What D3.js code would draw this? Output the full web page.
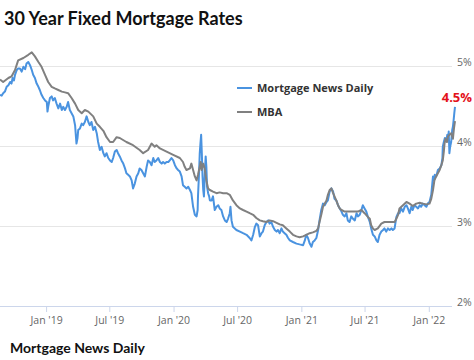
<!DOCTYPE html>
<html><head><meta charset="utf-8">
<script src="https://cdn.jsdelivr.net/npm/d3@7"></script>
<style>body{margin:0;background:#fff} svg{display:block}</style>
</head><body>
<svg id="c" width="474" height="360"></svg>
<script>
const titleText = "30 Year Fixed Mortgage Rates";
const sourceText = "Mortgage News Daily";
const seriesNames = ["Mortgage News Daily", "MBA"];
const yTicks = [2, 3, 4, 5];
const xTickDates = ["2019-01-01","2019-07-01","2020-01-01","2020-07-01","2021-01-01","2021-07-01","2022-01-01"];
const latestLabel = "4.5%";
const dateRange = ["2018-08-22", "2022-03-17"];

const mndSeries = [
["2018-08-22",4.64],["2018-08-27",4.63],["2018-08-31",4.66],["2018-09-05",4.68],["2018-09-10",4.74],["2018-09-15",4.76],["2018-09-20",4.80],["2018-09-24",4.78],["2018-09-27",4.85],["2018-10-01",4.82],
["2018-10-04",4.89],["2018-10-09",4.95],["2018-10-13",4.97],["2018-10-18",4.97],["2018-10-23",4.93],["2018-10-28",4.99],["2018-11-02",4.96],["2018-11-06",5.03],["2018-11-11",5.05],["2018-11-16",5.01],
["2018-11-21",4.95],["2018-11-25",4.89],["2018-11-30",4.85],["2018-12-05",4.78],["2018-12-10",4.74],["2018-12-14",4.70],["2018-12-19",4.64],["2018-12-24",4.60],["2018-12-29",4.57],
["2019-01-03",4.55],["2019-01-05",4.43],["2019-01-07",4.49],["2019-01-12",4.60],["2019-01-17",4.62],["2019-01-21",4.57],["2019-01-26",4.60],["2019-01-31",4.53],["2019-02-05",4.47],["2019-02-10",4.53],
["2019-02-15",4.45],["2019-02-19",4.49],["2019-02-24",4.45],["2019-03-01",4.49],["2019-03-05",4.55],["2019-03-10",4.45],["2019-03-15",4.41],["2019-03-20",4.37],["2019-03-25",4.26],["2019-03-29",4.03],
["2019-04-01",4.10],["2019-04-03",4.20],["2019-04-08",4.22],["2019-04-13",4.28],["2019-04-17",4.26],["2019-04-22",4.30],["2019-04-27",4.37],["2019-05-02",4.30],["2019-05-06",4.26],["2019-05-11",4.30],
["2019-05-16",4.20],["2019-05-21",4.24],["2019-05-26",4.16],["2019-05-30",4.05],["2019-06-04",3.95],["2019-06-09",3.99],["2019-06-14",3.91],["2019-06-18",3.87],["2019-06-23",3.91],["2019-06-28",3.85],
["2019-07-03",3.82],["2019-07-08",3.80],["2019-07-12",3.85],["2019-07-17",3.93],["2019-07-22",3.95],["2019-07-26",3.91],["2019-07-31",3.87],["2019-08-05",3.82],["2019-08-10",3.78],["2019-08-15",3.72],
["2019-08-19",3.66],["2019-08-24",3.64],["2019-08-29",3.62],["2019-09-03",3.57],["2019-09-07",3.47],["2019-09-12",3.53],["2019-09-17",3.62],["2019-09-22",3.66],["2019-09-26",3.72],["2019-10-01",3.70],
["2019-10-06",3.66],["2019-10-11",3.62],["2019-10-16",3.74],["2019-10-20",3.82],["2019-10-25",3.80],["2019-10-30",3.76],["2019-11-04",3.85],["2019-11-08",3.80],["2019-11-13",3.82],["2019-11-18",3.85],
["2019-11-23",3.80],["2019-11-28",3.78],["2019-12-02",3.80],["2019-12-07",3.78],["2019-12-12",3.80],["2019-12-17",3.80],["2019-12-21",3.82],["2019-12-26",3.85],["2019-12-31",3.82],
["2020-01-05",3.76],["2020-01-10",3.72],["2020-01-14",3.70],["2020-01-19",3.68],["2020-01-24",3.62],["2020-01-28",3.51],["2020-02-02",3.49],["2020-02-07",3.47],["2020-02-12",3.49],["2020-02-17",3.45],
["2020-02-21",3.41],["2020-02-26",3.24],["2020-03-02",3.14],["2020-03-07",3.12],["2020-03-10",3.20],["2020-03-11",3.37],["2020-03-14",3.66],["2020-03-16",3.91],["2020-03-18",4.03],["2020-03-20",4.14],
["2020-03-22",3.91],["2020-03-24",3.62],["2020-03-26",3.45],["2020-03-28",3.37],["2020-03-30",3.57],["2020-03-31",3.70],["2020-04-02",3.87],["2020-04-04",3.74],["2020-04-06",3.49],["2020-04-09",3.41],
["2020-04-12",3.37],["2020-04-14",3.32],["2020-04-19",3.32],["2020-04-23",3.37],["2020-04-28",3.20],["2020-05-03",3.24],["2020-05-08",3.26],["2020-05-12",3.22],["2020-05-17",3.20],["2020-05-22",3.12],
["2020-05-27",3.07],["2020-06-01",3.05],["2020-06-05",3.09],["2020-06-10",3.16],["2020-06-12",3.24],["2020-06-15",3.07],["2020-06-19",2.99],["2020-06-29",2.95],["2020-07-09",2.93],["2020-07-18",2.91],
["2020-07-28",2.89],["2020-08-06",2.85],["2020-08-11",2.82],["2020-08-16",2.89],["2020-08-21",2.99],["2020-08-25",3.03],["2020-08-30",3.01],["2020-09-04",2.87],["2020-09-09",2.91],["2020-09-13",2.93],
["2020-09-18",3.01],["2020-09-23",3.05],["2020-09-28",3.07],["2020-10-02",3.03],["2020-10-07",3.05],["2020-10-12",2.99],["2020-10-17",2.95],["2020-10-22",2.93],["2020-10-26",2.95],["2020-10-31",2.91],
["2020-11-05",2.97],["2020-11-09",2.93],["2020-11-14",2.91],["2020-11-19",2.89],["2020-11-24",2.85],["2020-11-29",2.82],["2020-12-08",2.80],["2020-12-18",2.78],["2020-12-27",2.77],
["2021-01-06",2.76],["2021-01-11",2.82],["2021-01-15",2.89],["2021-01-20",2.85],["2021-01-25",2.78],["2021-01-30",2.74],["2021-02-03",2.80],["2021-02-08",2.82],["2021-02-13",2.85],["2021-02-18",2.95],
["2021-02-22",3.07],["2021-02-27",3.20],["2021-03-04",3.28],["2021-03-09",3.26],["2021-03-14",3.30],["2021-03-18",3.32],["2021-03-23",3.43],["2021-03-28",3.47],["2021-04-02",3.43],["2021-04-06",3.34],
["2021-04-11",3.32],["2021-04-16",3.26],["2021-04-21",3.22],["2021-04-26",3.18],["2021-04-30",3.14],["2021-05-05",3.12],["2021-05-10",3.16],["2021-05-14",3.07],["2021-05-19",3.05],["2021-05-24",3.12],
["2021-05-29",3.09],["2021-06-03",3.07],["2021-06-08",3.16],["2021-06-12",3.12],["2021-06-17",3.14],["2021-06-22",3.20],["2021-06-26",3.26],["2021-07-01",3.22],["2021-07-06",3.18],["2021-07-11",3.11],
["2021-07-16",3.05],["2021-07-20",2.97],["2021-07-25",2.89],["2021-07-30",2.87],["2021-08-04",2.82],["2021-08-08",2.80],["2021-08-13",2.89],["2021-08-18",2.93],["2021-08-23",2.95],["2021-08-27",2.97],
["2021-09-01",2.93],["2021-09-06",2.97],["2021-09-11",2.95],["2021-09-16",2.97],["2021-09-20",2.95],["2021-09-25",2.97],["2021-09-30",3.11],["2021-10-05",3.16],["2021-10-09",3.16],["2021-10-14",3.22],
["2021-10-19",3.18],["2021-10-24",3.24],["2021-10-29",3.26],["2021-11-02",3.22],["2021-11-07",3.16],["2021-11-12",3.24],["2021-11-16",3.20],["2021-11-21",3.26],["2021-11-26",3.24],["2021-12-01",3.22],
["2021-12-06",3.26],["2021-12-10",3.24],["2021-12-15",3.28],["2021-12-20",3.26],["2021-12-25",3.24],["2021-12-29",3.28],
["2022-01-03",3.30],["2022-01-08",3.39],["2022-01-11",3.53],["2022-01-13",3.62],["2022-01-16",3.57],["2022-01-18",3.64],["2022-01-22",3.62],["2022-01-27",3.70],["2022-02-01",3.72],["2022-02-06",3.76],
["2022-02-09",3.85],["2022-02-10",3.99],["2022-02-13",4.05],["2022-02-16",4.10],["2022-02-20",4.07],["2022-02-23",4.14],["2022-02-26",4.07],["2022-02-27",4.18],["2022-03-01",3.91],["2022-03-03",3.99],
["2022-03-06",4.05],["2022-03-09",4.20],["2022-03-11",4.24],["2022-03-13",4.32],["2022-03-15",4.41],["2022-03-17",4.49]
];

const mbaSeries = [
["2018-08-22",4.83],["2018-08-31",4.80],["2018-09-15",4.85],["2018-09-24",4.87],["2018-10-04",4.95],["2018-10-13",5.07],["2018-10-28",5.10],["2018-11-11",5.14],["2018-11-21",5.17],["2018-11-30",5.12],
["2018-12-10",5.05],["2018-12-19",4.99],["2018-12-29",4.89],["2019-01-07",4.80],["2019-01-17",4.74],["2019-01-26",4.72],["2019-02-05",4.70],["2019-02-15",4.68],["2019-02-24",4.67],["2019-03-05",4.66],
["2019-03-15",4.60],["2019-03-25",4.53],["2019-04-03",4.45],["2019-04-13",4.41],["2019-04-22",4.45],["2019-05-02",4.43],["2019-05-16",4.37],["2019-05-26",4.28],["2019-06-04",4.24],["2019-06-14",4.19],
["2019-06-23",4.11],["2019-07-03",4.05],["2019-07-12",4.05],["2019-07-22",4.11],["2019-07-31",4.10],["2019-08-19",4.05],["2019-09-07",4.01],["2019-09-26",3.95],["2019-10-06",3.91],["2019-10-20",3.95],
["2019-10-25",3.99],["2019-10-30",4.03],["2019-11-04",4.01],["2019-11-08",3.99],["2019-11-13",4.01],["2019-11-23",3.97],["2019-12-12",3.93],["2019-12-31",3.89],["2020-01-19",3.85],["2020-01-28",3.80],
["2020-02-02",3.74],["2020-02-07",3.70],["2020-02-17",3.72],["2020-02-21",3.78],["2020-02-26",3.70],["2020-03-02",3.62],["2020-03-07",3.57],["2020-03-11",3.64],["2020-03-16",3.74],["2020-03-19",3.80],
["2020-03-21",3.70],["2020-03-26",3.78],["2020-03-30",3.72],["2020-04-04",3.57],["2020-04-09",3.47],["2020-04-14",3.45],["2020-04-23",3.43],["2020-05-03",3.41],["2020-05-12",3.42],["2020-05-22",3.41],
["2020-06-01",3.41],["2020-06-10",3.39],["2020-06-19",3.32],["2020-06-29",3.26],["2020-07-09",3.22],["2020-07-18",3.20],["2020-07-28",3.18],["2020-08-06",3.16],["2020-08-16",3.14],["2020-08-25",3.10],
["2020-09-04",3.07],["2020-09-13",3.06],["2020-09-23",3.05],["2020-10-02",3.07],["2020-10-12",3.06],["2020-10-22",3.04],["2020-10-31",3.02],["2020-11-09",3.01],["2020-11-19",2.97],["2020-11-29",2.93],
["2020-12-08",2.89],["2020-12-18",2.87],["2020-12-27",2.86],["2021-01-06",2.87],["2021-01-15",2.89],["2021-01-25",2.91],["2021-02-03",2.92],["2021-02-13",2.94],["2021-02-18",2.97],["2021-02-22",3.05],
["2021-02-27",3.14],["2021-03-04",3.24],["2021-03-09",3.28],["2021-03-14",3.32],["2021-03-18",3.39],["2021-03-23",3.45],["2021-03-28",3.47],["2021-04-02",3.41],["2021-04-06",3.37],["2021-04-11",3.32],
["2021-04-16",3.26],["2021-04-21",3.22],["2021-04-26",3.20],["2021-05-05",3.18],["2021-05-14",3.18],["2021-05-29",3.18],["2021-06-12",3.18],["2021-06-22",3.20],["2021-07-01",3.16],["2021-07-11",3.11],
["2021-07-16",3.09],["2021-07-20",3.01],["2021-07-25",2.97],["2021-07-30",2.95],["2021-08-08",2.97],["2021-08-18",3.03],["2021-08-27",3.05],["2021-09-06",3.05],["2021-09-16",3.05],["2021-09-25",3.05],
["2021-09-30",3.09],["2021-10-05",3.14],["2021-10-09",3.22],["2021-10-19",3.26],["2021-10-29",3.30],["2021-11-07",3.28],["2021-11-16",3.25],["2021-11-26",3.28],["2021-12-06",3.29],["2021-12-15",3.28],
["2021-12-25",3.27],["2022-01-03",3.28],["2022-01-08",3.34],["2022-01-13",3.45],["2022-01-17",3.57],["2022-01-22",3.62],["2022-01-27",3.66],["2022-02-01",3.70],["2022-02-06",3.76],["2022-02-10",3.82],
["2022-02-13",3.93],["2022-02-15",4.03],["2022-02-18",4.09],["2022-02-22",4.05],["2022-02-25",4.12],["2022-03-01",4.14],["2022-03-06",4.16],["2022-03-11",4.09],["2022-03-14",4.22],["2022-03-17",4.31]
];

const parse = d3.timeParse("%Y-%m-%d");
const svg = d3.select("#c");
const plotRight = 455;
const x = d3.scaleTime().domain(dateRange.map(parse)).range([0, plotRight]);
const y = d3.scaleLinear().domain([2, 5]).range([306, 66]);

// title
svg.append("text").attr("x", 4).attr("y", 25)
  .attr("font-family", "Lato, 'Open Sans', sans-serif").attr("font-weight", 700)
  .attr("font-size", 18).attr("fill", "#111").text(titleText);

// gridlines
svg.append("g").selectAll("line").data(yTicks.filter(d => d !== 2)).join("line")
  .attr("x1", 0).attr("x2", 452).attr("y1", d => y(d)).attr("y2", d => y(d))
  .attr("stroke", "#e6e6e6").attr("stroke-width", 1).attr("shape-rendering", "crispEdges");

// y labels
const yAxis = d3.axisRight(y).tickValues(yTicks).tickSize(0).tickFormat(d => d + "%");
const gy = svg.append("g").attr("transform", "translate(456,0)").call(yAxis);
gy.select(".domain").remove();
gy.selectAll("text").attr("font-family", "'Open Sans', sans-serif").attr("font-size", 10.5)
  .attr("fill", "#666").attr("x", 1).attr("dy", "-0.05em");

// x axis
const xAxis = d3.axisBottom(x).tickValues(xTickDates.map(parse))
  .tickSize(6).tickPadding(5).tickFormat(d3.timeFormat("%b '%y"));
const gx = svg.append("g").attr("transform", `translate(0,${y(2)})`).call(xAxis);
gx.select(".domain").attr("d", "M0,0.5H452").attr("stroke", "#ccd6eb");
gx.selectAll(".tick line").attr("stroke", "#ccd6eb");
gx.selectAll("text").attr("font-family", "'Open Sans', sans-serif").attr("font-size", 10.5).attr("fill", "#666");

// lines
const line = d3.line().x(d => x(parse(d[0]))).y(d => y(d[1]));
svg.append("path").datum(mndSeries).attr("d", line).attr("fill", "none")
  .attr("stroke", "#4a93e0").attr("stroke-width", 2).attr("stroke-linejoin", "round");
svg.append("path").datum(mbaSeries).attr("d", line).attr("fill", "none")
  .attr("stroke", "#808080").attr("stroke-width", 2).attr("stroke-linejoin", "round");

// legend
const legendColors = ["#4a93e0", "#808080"];
const lg = svg.append("g").attr("transform", "translate(237,88)");
seriesNames.forEach((name, i) => {
  const g = lg.append("g").attr("transform", `translate(0,${i * 24})`);
  g.append("line").attr("x1", 0).attr("x2", 15).attr("y1", 0).attr("y2", 0)
    .attr("stroke", legendColors[i]).attr("stroke-width", 2);
  g.append("text").attr("x", 20).attr("y", 4).attr("font-family", "'Open Sans', sans-serif")
    .attr("font-weight", 700).attr("font-size", 11).attr("fill", "#333").text(name);
});

// latest value label
const last = mndSeries[mndSeries.length - 1];
svg.append("text").attr("x", 472).attr("y", 102).attr("text-anchor", "end")
  .attr("font-family", "'Open Sans', sans-serif").attr("font-weight", 700).attr("font-size", 13)
  .attr("fill", "#e3121b").text(latestLabel);

// source
svg.append("text").attr("x", 10).attr("y", 353)
  .attr("font-family", "Lato, 'Open Sans', sans-serif").attr("font-weight", 700)
  .attr("font-size", 14).attr("fill", "#111").text(sourceText);
</script>
</body></html>
